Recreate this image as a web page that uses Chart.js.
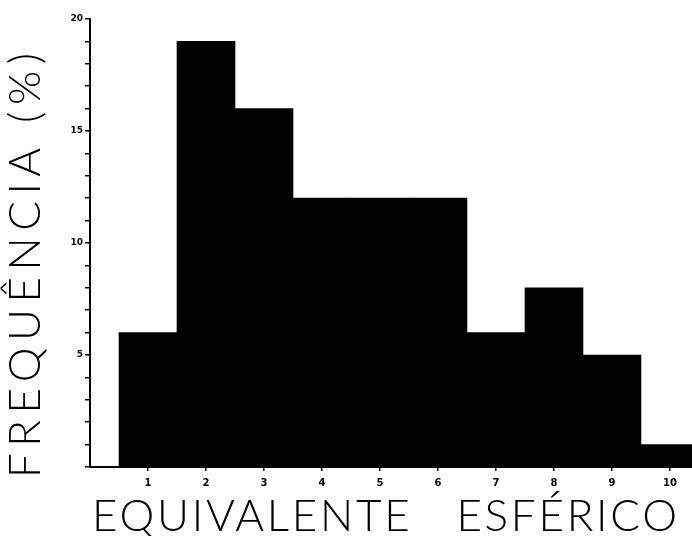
<!DOCTYPE html>
<html>
<head>
<meta charset="utf-8">
<script src="https://cdn.jsdelivr.net/npm/chart.js@4/dist/chart.umd.min.js"></script>
<style>
  html, body { margin: 0; padding: 0; background: #fff; }
  #wrap { width: 692px; height: 536px; }
</style>
</head>
<body>
<div id="wrap"><canvas id="chart"></canvas></div>
<script>
// classes of spherical equivalent and their frequency (%)
const classes = [1, 2, 3, 4, 5, 6, 7, 8, 9, 10];
const frequency = [6, 19, 16, 12, 12, 12, 6, 8, 5, 1];
const xTickLabels = ['1', '2', '3', '4', '5', '6', '7', '8', '9', '10'];
const yTickLabels = { 5: '5', 10: '10', 15: '15', 20: '20' };
const xTitle = 'EQUIVALENTE   ESFÉRICO';
const yTitle = 'FREQUÊNCIA (%)';

const titleFont = '300 44px Lato, "DejaVu Sans", sans-serif';

// draws both axis titles with wide letter spacing, like the hand lettering
const handTitles = {
  id: 'handTitles',
  afterDraw(chart) {
    const ctx = chart.ctx;
    const fit = (text, target) => {
      ctx.letterSpacing = '0px';
      const w = ctx.measureText(text).width;
      return Math.max(0, (target - w) / (text.length - 1));
    };
    ctx.save();
    ctx.fillStyle = '#000';
    ctx.font = titleFont;
    ctx.textAlign = 'left';
    ctx.textBaseline = 'middle';

    let sp = fit(xTitle, 585);
    ctx.letterSpacing = sp + 'px';
    ctx.fillText(xTitle, 92, 517);

    ctx.translate(26, 478);
    ctx.rotate(-Math.PI / 2);
    sp = fit(yTitle, 425);
    ctx.letterSpacing = sp + 'px';
    ctx.fillText(yTitle, 0, 0);
    ctx.restore();
  }
};

new Chart(document.getElementById('chart'), {
  type: 'bar',
  data: {
    datasets: [{
      data: classes.map((c, i) => ({ x: c, y: frequency[i] })),
      backgroundColor: '#000',
      borderWidth: 0,
      barPercentage: 1,
      categoryPercentage: 1
    }]
  },
  options: {
    responsive: true,
    maintainAspectRatio: false,
    animation: false,
    layout: { padding: { top: 19, right: 0, left: 0, bottom: 0 } },
    plugins: { legend: { display: false }, tooltip: { enabled: false } },
    scales: {
      x: {
        type: 'linear',
        min: 0,
        max: 10.38,
        offset: false,
        afterBuildTicks: (scale) => {
          scale.ticks = classes.map((v) => ({ value: v }));
        },
        afterFit: (scale) => { scale.height = 69; },
        grid: { offset: false, drawOnChartArea: false, drawTicks: true, tickLength: 4, color: '#000', lineWidth: 1.5 },
        border: { color: '#000', width: 2 },
        ticks: {
          color: '#000',
          padding: 6,
          font: { family: '"DejaVu Sans"', size: 10, weight: 'bold' },
          callback: (v) => xTickLabels[classes.indexOf(v)] ?? ''
        }
      },
      y: {
        min: 0,
        max: 20,
        afterFit: (scale) => { scale.width = 90; },
        grid: { drawOnChartArea: false, drawTicks: true, tickLength: 5, color: '#000', lineWidth: 1.5 },
        border: { color: '#000', width: 2 },
        ticks: {
          stepSize: 1,
          autoSkip: false,
          color: '#000',
          padding: 2,
          font: { family: '"DejaVu Sans"', size: 9, weight: 'bold' },
          callback: (v) => yTickLabels[v] ?? ''
        }
      }
    }
  },
  plugins: [handTitles]
});
</script>
</body>
</html>
